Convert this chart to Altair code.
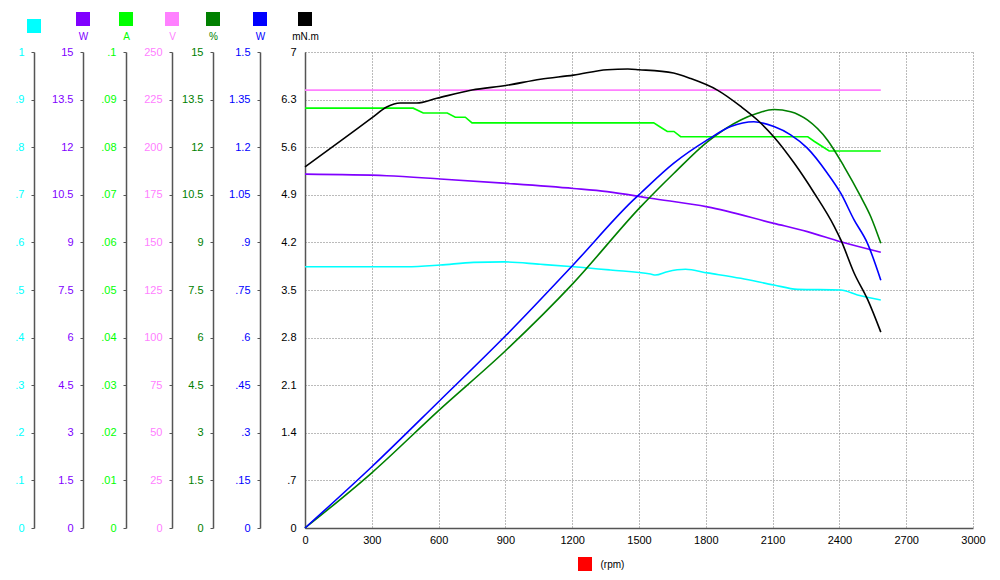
import altair as alt
import pandas as pd

# ---------------- tick labels ----------------
rpm_ticks = [0, 300, 600, 900, 1200, 1500, 1800, 2100, 2400, 2700, 3000]
torque_ticks = [0, 0.7, 1.4, 2.1, 2.8, 3.5, 4.2, 4.9, 5.6, 6.3, 7]
pout_ticks = [0, 0.15, 0.3, 0.45, 0.6, 0.75, 0.9, 1.05, 1.2, 1.35, 1.5]
eff_ticks = [0, 1.5, 3, 4.5, 6, 7.5, 9, 10.5, 12, 13.5, 15]
volt_ticks = [0, 25, 50, 75, 100, 125, 150, 175, 200, 225, 250]
amp_ticks = [0, 0.01, 0.02, 0.03, 0.04, 0.05, 0.06, 0.07, 0.08, 0.09, 0.1]
pin_ticks = [0, 1.5, 3, 4.5, 6, 7.5, 9, 10.5, 12, 13.5, 15]
pf_ticks = [0, 0.1, 0.2, 0.3, 0.4, 0.5, 0.6, 0.7, 0.8, 0.9, 1]

# ---------------- series ----------------
torque_rpm = [0, 180, 300, 367, 427, 502, 592, 750, 907, 1057, 1206, 1357, 1450, 1500, 1655,
              1732, 1852, 1957, 2032, 2106, 2196, 2286, 2376, 2406, 2466, 2528, 2586]
torque_val = [5.31, 5.74, 6.03, 6.19, 6.25, 6.25, 6.32, 6.44, 6.51, 6.60, 6.66, 6.74, 6.75,
              6.74, 6.69, 6.61, 6.44, 6.20, 6.00, 5.75, 5.37, 4.93, 4.44, 4.24, 3.75, 3.35, 2.88]

pout_rpm = [0, 300, 600, 904, 1204, 1475, 1507, 1655, 1807, 1912, 2016, 2106, 2181, 2256,
            2346, 2406, 2466, 2526, 2586]
pout_val = [0, 0.193, 0.398, 0.608, 0.829, 1.034, 1.055, 1.149, 1.223, 1.265, 1.280, 1.265,
            1.239, 1.197, 1.118, 1.055, 0.971, 0.897, 0.781]

eff_rpm = [0, 300, 600, 904, 1204, 1507, 1657, 1807, 1957, 2032, 2106, 2181, 2256, 2346,
           2421, 2496, 2541, 2586]
eff_val = [0, 1.74, 3.70, 5.61, 7.71, 10.12, 11.18, 12.17, 12.86, 13.07, 13.19, 13.12, 12.86,
           12.23, 11.39, 10.44, 9.81, 8.97]

volt_rpm = [0, 2586]
volt_val = [230, 230]

amp_rpm = [0, 486, 531, 639, 675, 720, 750, 1566, 1597, 1627, 1657, 1687, 2258, 2288, 2318,
           2354, 2586]
amp_val = [0.0882, 0.0882, 0.0872, 0.0872, 0.0863, 0.0863, 0.0851, 0.0851, 0.0842, 0.0833,
           0.0833, 0.0822, 0.0822, 0.0812, 0.0803, 0.0792, 0.0792]

pin_rpm = [0, 367, 607, 907, 1206, 1357, 1552, 1807, 2106, 2256, 2406, 2586]
pin_val = [11.15, 11.10, 11.00, 10.86, 10.70, 10.60, 10.39, 10.12, 9.60, 9.34, 9.02, 8.69]

pf_rpm = [0, 457, 607, 757, 892, 1057, 1206, 1372, 1552, 1574, 1627, 1709, 1807, 1957, 2106,
          2211, 2406, 2481, 2586]
pf_val = [0.549, 0.549, 0.5525, 0.558, 0.559, 0.554, 0.549, 0.542, 0.5336, 0.5315, 0.5385,
          0.5435, 0.536, 0.5246, 0.5105, 0.5014, 0.500, 0.4895, 0.479]

units = ["", "W", "A", "V", "%", "W", "mN.m"]
colors = ["#00FFFF", "#8000FF", "#00FF00", "#FF80FF", "#008000", "#0000FF", "#000000"]
interp = ["monotone", "monotone", "linear", "linear", "monotone", "monotone", "monotone"]

# ---------------- layout ----------------
FONT = "Liberation Sans"
W, H = 668, 476
offsets = [271, 222, 179, 133, 92, 45, 0]
LABEL = "datum.value > 0 && datum.value < 1 ? slice(toString(datum.value), 1) : toString(datum.value)"

x_axis = alt.Axis(values=rpm_ticks, format="d", grid=True, gridColor="#777777", gridDash=[1, 2],
                  gridWidth=1, ticks=False, domainColor="#555555", domainWidth=1.5,
                  labelColor="#000000", labelFontSize=11, labelFont=FONT, labelPadding=6,
                  labelFlush=False, labelOverlap=False,
                  title="(rpm)", titleFont=FONT, titleFontSize=10, titleFontWeight="normal",
                  titleColor="#000000", titleX=295, titleY=36, titleAlign="left",
                  titleBaseline="middle", titleAnchor="start")
x_enc = alt.X("rpm:Q", scale=alt.Scale(domain=[0, 3000], nice=False), axis=x_axis)

series = [
    (pf_rpm, pf_val, pf_ticks, 1),
    (pin_rpm, pin_val, pin_ticks, 15),
    (amp_rpm, amp_val, amp_ticks, 0.1),
    (volt_rpm, volt_val, volt_ticks, 250),
    (eff_rpm, eff_val, eff_ticks, 15),
    (pout_rpm, pout_val, pout_ticks, 1.5),
    (torque_rpm, torque_val, torque_ticks, 7),
]

layers = []
for i, (r, v, t, mx) in enumerate(series):
    main = i == len(series) - 1
    axis_kw = dict(orient="left", offset=offsets[i], values=t, labelExpr=LABEL,
                   labelColor=colors[i], labelFontSize=11, labelFont=FONT,
                   labelOverlap=False, labelFlush=False,
                   domainColor="#555555", domainWidth=1.5,
                   tickColor="#555555", tickSize=3, ticks=not main,
                   labelPadding=9 if main else 7,
                   grid=main)
    if main:
        axis_kw.update(gridColor="#777777", gridDash=[1, 2], gridWidth=1)
    if units[i]:
        axis_kw.update(title=units[i], titleColor=colors[i], titleAngle=0, titleX=0,
                       titleY=-16, titleAlign="center", titleBaseline="middle",
                       titleFont=FONT, titleFontSize=10, titleFontWeight="normal")
    else:
        axis_kw.update(title=None)
    df = pd.DataFrame({"rpm": r, "v": v})
    layers.append(
        alt.Chart(df).mark_line(color=colors[i], strokeWidth=1.6, clip=False,
                                interpolate=interp[i]).encode(
            x=x_enc,
            y=alt.Y("v:Q", scale=alt.Scale(domain=[0, mx], nice=False, zero=True),
                    axis=alt.Axis(**axis_kw)),
        )
    )

one = pd.DataFrame({"k": [0]})
for i in range(len(colors)):
    layers.append(
        alt.Chart(one).mark_square(size=196, opacity=1, filled=True).encode(
            x=alt.value(-offsets[i]),
            y=alt.value(-26 if not units[i] else -33),
            color=alt.value(colors[i]),
        )
    )
layers.append(
    alt.Chart(one).mark_square(size=196, opacity=1, filled=True).encode(
        x=alt.value(280), y=alt.value(H + 36), color=alt.value("#FF0000")
    )
)

chart = (
    alt.layer(*layers)
    .resolve_scale(y="independent")
    .resolve_axis(y="independent")
    .properties(
        width=W,
        height=H,
        autosize=alt.AutoSizeParams(type="none"),
        padding={"left": 305, "top": 52, "right": 27, "bottom": 52},
        background="#FFFFFF",
    )
    .configure_view(stroke=None)
)

chart.save("out.html", embed_options={"renderer": "svg", "actions": False})
